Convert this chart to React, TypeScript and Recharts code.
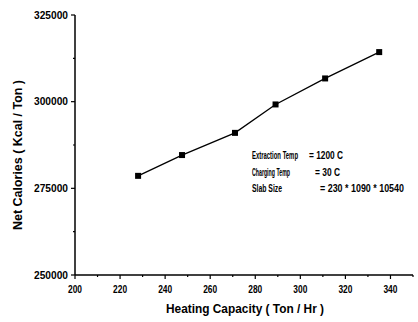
import { LineChart, Line, XAxis, YAxis } from "recharts";

const capacity = [228, 247.5, 271, 289, 311, 335];
const netCalories = [278600, 284600, 291000, 299200, 306700, 314300];

const xTicks = [200, 210, 220, 230, 240, 250, 260, 270, 280, 290, 300, 310, 320, 330, 340, 350];
const xLabelled = [200, 220, 240, 260, 280, 300, 320, 340];
const yTicks = [250000, 262500, 275000, 287500, 300000, 312500, 325000];
const yLabelled = [250000, 275000, 300000, 325000];

const notes = [
  { name: "Extraction Temp", value: "= 1200 C" },
  { name: "Charging Temp", value: "= 30 C" },
  { name: "Slab Size", value: "= 230 * 1090 * 10540" },
];
// the scan uses a very condensed face, so widths are fixed per string
const noteLayout = [
  { nameW: 46, valueX: 309, valueW: 34 },
  { nameW: 38, valueX: 315, valueW: 25 },
  { nameW: 30, valueX: 320, valueW: 84 },
];

const data = capacity.map((c, i) => ({ capacity: c, calories: netCalories[i] }));

const FONT = "'Liberation Sans', Arial, sans-serif";
const textStyle = { fontFamily: FONT, fontWeight: 700 };

function XTick(props: any) {
  const { x, y, payload } = props;
  const major = xLabelled.includes(payload.value);
  return (
    <g>
      <line x1={x} x2={x} y1={y} y2={y + (major ? 4 : 2)} stroke="#000" strokeWidth={1.2} />
      {major && (
        <text
          x={x}
          y={y + 18}
          textAnchor="middle"
          fontSize={10.5}
          fill="#000"
          style={textStyle}
          textLength={14}
          lengthAdjust="spacingAndGlyphs"
        >
          {payload.value}
        </text>
      )}
    </g>
  );
}

function YTick(props: any) {
  const { x, y, payload } = props;
  const major = yLabelled.includes(payload.value);
  return (
    <g>
      <line x1={x} x2={x - (major ? 4 : 2)} y1={y} y2={y} stroke="#000" strokeWidth={1.2} />
      {major && (
        <text
          x={x - 7}
          y={y + 3.5}
          textAnchor="end"
          fontSize={10.5}
          fill="#000"
          style={textStyle}
          textLength={34}
          lengthAdjust="spacingAndGlyphs"
        >
          {payload.value}
        </text>
      )}
    </g>
  );
}

function SquareDot(props: any) {
  const { cx, cy } = props;
  if (cx == null || cy == null) return null;
  return <rect x={cx - 3} y={cy - 3} width={6} height={6} fill="#000" />;
}

export default function App() {
  return (
    <div style={{ position: "absolute", left: 0, top: 0, width: 418, height: 322, background: "#fff" }}>
      <LineChart width={418} height={322} data={data} margin={{ top: 15, right: 5, left: 0, bottom: 0 }}>
        <XAxis
          dataKey="capacity"
          type="number"
          domain={[200, 350]}
          ticks={xTicks}
          interval={0}
          height={47}
          tickSize={0}
          tickMargin={0}
          tickLine={false}
          axisLine={{ stroke: "#000", strokeWidth: 1.5 }}
          tick={<XTick />}
        />
        <YAxis
          dataKey="calories"
          type="number"
          domain={[250000, 325000]}
          ticks={yTicks}
          interval={0}
          width={75}
          tickSize={0}
          tickMargin={0}
          tickLine={false}
          axisLine={{ stroke: "#000", strokeWidth: 1.5 }}
          tick={<YTick />}
        />
        <Line
          dataKey="calories"
          stroke="#000"
          strokeWidth={1.3}
          dot={<SquareDot />}
          activeDot={false}
          isAnimationActive={false}
        />
        <text
          x={245}
          y={313}
          textAnchor="middle"
          fontSize={12.5}
          fill="#000"
          style={textStyle}
          textLength={158}
          lengthAdjust="spacingAndGlyphs"
        >
          Heating Capacity ( Ton / Hr )
        </text>
        <text
          x={22}
          y={155}
          textAnchor="middle"
          fontSize={12.5}
          fill="#000"
          style={textStyle}
          textLength={150}
          lengthAdjust="spacingAndGlyphs"
          transform="rotate(-90 22 155)"
        >
          Net Calories ( Kcal / Ton )
        </text>
        {notes.map((n, i) => (
          <text key={n.name} y={159 + i * 16.5} fontSize={10} fill="#000" style={textStyle}>
            <tspan x={252} textLength={noteLayout[i].nameW} lengthAdjust="spacingAndGlyphs">
              {n.name}
            </tspan>
            <tspan x={noteLayout[i].valueX} textLength={noteLayout[i].valueW} lengthAdjust="spacingAndGlyphs">
              {n.value}
            </tspan>
          </text>
        ))}
      </LineChart>
    </div>
  );
}
